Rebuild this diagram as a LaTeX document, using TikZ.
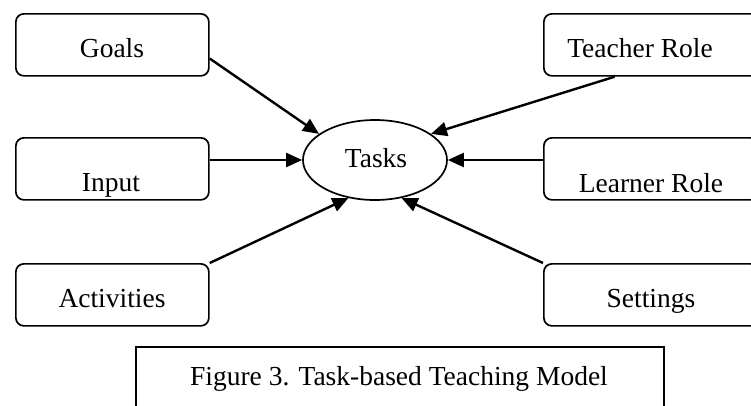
\documentclass[tikz,border=0pt]{standalone}
\usepackage{fontspec}
\setmainfont{Liberation Serif}
\usetikzlibrary{arrows.meta,shapes.geometric}

\tikzset{
  part/.style={draw,line width=1.7pt,rounded corners=8pt,minimum height=62pt,inner sep=0pt},
  link/.style={line width=2.4pt,-{Triangle[length=16pt,width=14pt]}}
}

\begin{document}
\begin{tikzpicture}[x=1pt,y=-1pt,font=\fontsize{27.5}{33}\selectfont]
\clip (0,0) rectangle (751,405);

% the boxes round the task
\foreach \nm/\lx/\ty/\bw/\tx/\bl/\txt in {
    goals/15/13/193/112/57/Goals,
    input/15/137/193/111/191/Input,
    activities/15/263/193/112/307/Activities,
    teacher/543/13/215/640/57/Teacher Role,
    learner/543/137/215/651/192/Learner Role,
    settings/543/263/215/651/307/Settings} {
  \node[part,minimum width=\bw pt,anchor=north west] (\nm) at (\lx,\ty) {};
  \node[anchor=base] (\nm-label) at (\tx,\bl) {\txt};
}

% the task in the middle
\node[draw,ellipse,line width=1.7pt,minimum width=144pt,minimum height=80pt,inner sep=0pt] (tasks) at (375,160) {};
\node[anchor=base] (tasks-label) at (376,167) {Tasks};

%arrows into the task:
\draw[link] (goals.-8) -- (tasks.155);
\draw[link] (tasks.west -| input.east) -- (tasks.west);
\draw[link] (activities.north east) -- (tasks.235);
\draw[link] (teacher.221) -- (tasks.25);
\draw[link] (tasks.east -| learner.west) -- (tasks.east);
\draw[link] (settings.north west) -- (tasks.305);

% caption
\node[draw,line width=1.7pt,minimum width=528pt,minimum height=90pt,inner sep=0pt,anchor=north west] (caption) at (135,346) {};
\node[anchor=base] (caption-label) at (399,385) {Figure 3. Task-based Teaching Model};
\end{tikzpicture}
\end{document}
